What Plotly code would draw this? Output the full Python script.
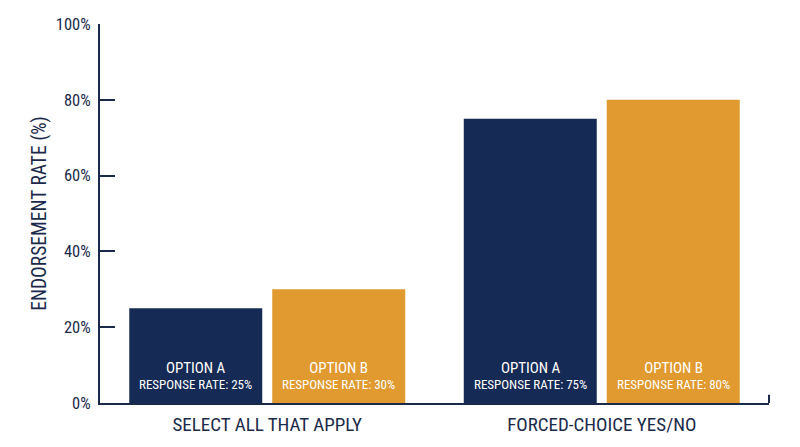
import plotly.graph_objects as go

# chart data
categories = ["SELECT ALL THAT APPLY", "FORCED-CHOICE YES/NO"]
option_a = [25, 75]
option_b = [30, 80]
series_names = ["OPTION A", "OPTION B"]
y_ticks = [0, 20, 40, 60, 80, 100]
y_tick_labels = ["0%", "20%", "40%", "60%", "80%", "100%"]

navy = "#152a55"
orange = "#e09a30"
ink = "#1b2a4a"
font_family = "Liberation Sans Narrow, Roboto Condensed, Roboto, sans-serif"

fig = go.Figure()
for name, vals, col in [(series_names[0], option_a, navy), (series_names[1], option_b, orange)]:
    fig.add_trace(go.Bar(
        x=categories, y=vals, name=name, marker_color=col,
        marker_line_width=0, showlegend=False, hoverinfo="skip"
    ))

# labels inside bars, near the base
slot_px = 143
for i, cat in enumerate(categories):
    for j, (name, vals) in enumerate([(series_names[0], option_a), (series_names[1], option_b)]):
        fig.add_annotation(
            x=cat, y=0, xref="x", yref="y",
            xshift=(j - 0.5) * slot_px, yshift=9,
            yanchor="bottom", showarrow=False, align="center",
            text=f"<span style='font-size:15px'>{name}</span><br>"
                 f"<span style='font-size:13px'>RESPONSE RATE: {vals[i]}%</span>",
            font=dict(color="white", family=font_family),
        )

fig.update_layout(
    width=800, height=447,
    margin=dict(l=100, r=31, t=24, b=44),
    paper_bgcolor="white", plot_bgcolor="white",
    barmode="group", bargap=0.145, bargroupgap=0.07,
    font=dict(family=font_family, color=ink),
)
fig.update_xaxes(
    showline=True, linecolor=ink, linewidth=2,
    ticks="", showgrid=False, ticklabelstandoff=3,
    tickfont=dict(size=19, color=ink),
)
fig.update_yaxes(
    range=[0, 100], tickvals=y_ticks, ticktext=y_tick_labels,
    showline=True, linecolor=ink, linewidth=2,
    ticks="inside", ticklen=15, tickwidth=2, tickcolor=ink,
    showgrid=False, zeroline=False, ticklabelstandoff=4,
    tickfont=dict(size=16.5, color=ink),
    title=dict(text="ENDORSEMENT RATE (%)", font=dict(size=19.5, color=ink), standoff=4),
)
# small end tick on the right of the x axis
fig.add_shape(type="line", xref="paper", yref="paper", x0=1, x1=1, y0=0, y1=0.022,
              line=dict(color=ink, width=2))

fig.write_html("out.html", config={"displayModeBar": False},
               post_script="document.body.style.margin='0';")
